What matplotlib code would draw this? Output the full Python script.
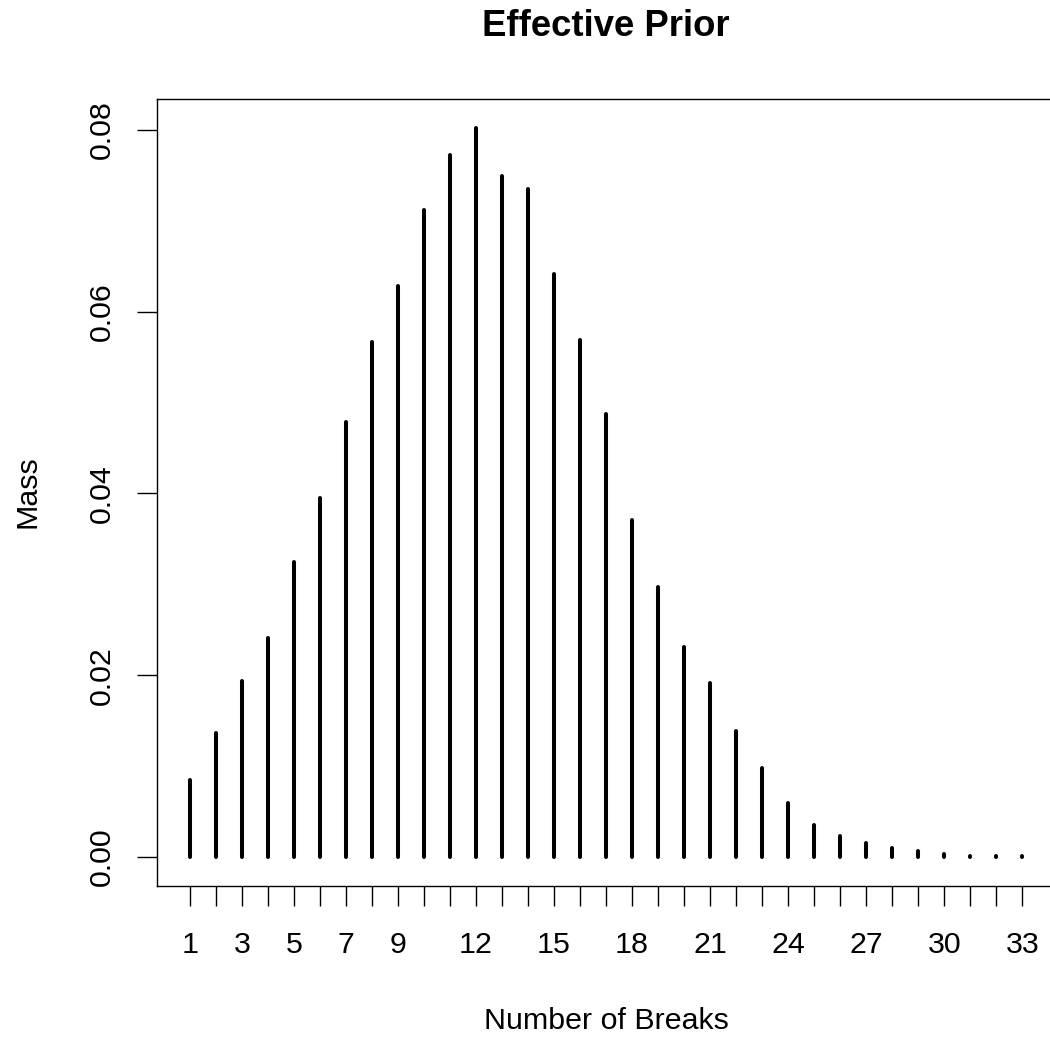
import matplotlib
matplotlib.use("Agg")
import matplotlib.pyplot as plt
import numpy as np

plt.rcParams['font.family'] = ['Liberation Sans', 'DejaVu Sans']

breaks = list(range(1, 34))
mass = [0.0085, 0.0136, 0.0193, 0.0241, 0.0324, 0.0395, 0.0479, 0.0567, 0.0628,
        0.0712, 0.0772, 0.0802, 0.0749, 0.0735, 0.0641, 0.0569, 0.0487, 0.0371,
        0.0297, 0.0231, 0.0191, 0.0138, 0.0098, 0.0059, 0.0035, 0.0023, 0.0015,
        0.0010, 0.0006, 0.0003, 0.0001, 0.00007, 0.00006]
shown_labels = [1, 3, 5, 7, 9, 12, 15, 18, 21, 24, 27, 30, 33]
ytick_vals = [0.00, 0.02, 0.04, 0.06, 0.08]

W, H = 1050, 1038
fig = plt.figure(figsize=(W / 100, H / 100), dpi=100)
left_px, right_px, top_px, bot_px = 156.5, 1055.5, 99.0, 886.0
ax = fig.add_axes([left_px / W, 1 - bot_px / H, (right_px - left_px) / W, (bot_px - top_px) / H])

lc = ax.vlines(breaks, 0, mass, colors='black', linewidth=2.9)
lc.set_capstyle('round')

xmin, xmax = min(breaks), max(breaks)
xr = xmax - xmin
ax.set_xlim(xmin - 0.04 * xr, xmax + 0.04 * xr)
ymax = max(mass)
ax.set_ylim(-0.04 * ymax, ymax * 1.04)

ax.set_xticks(breaks)
ax.set_xticklabels([str(b) if b in shown_labels else '' for b in breaks])
ax.set_yticks(ytick_vals)
ax.set_yticklabels(['%.2f' % v for v in ytick_vals], rotation=90, va='center')

ax.tick_params(axis='both', direction='out', length=14.4, width=1.0, labelsize=21.9, color='black')
ax.tick_params(axis='x', pad=18)
ax.tick_params(axis='y', pad=15)
for s in ax.spines.values():
    s.set_linewidth(1.0)
    s.set_color('black')

fig.text(606 / W, 1 - 36 / H, 'Effective Prior', ha='center', va='baseline',
         fontsize=26.3, fontweight='bold')
fig.text(606 / W, 1 - 1029 / H, 'Number of Breaks', ha='center', va='baseline', fontsize=21.9)
fig.text(27 / W, 1 - 492 / H, 'Mass', ha='center', va='center', rotation=90, fontsize=21.9)

fig.savefig('out.png', dpi=100)
